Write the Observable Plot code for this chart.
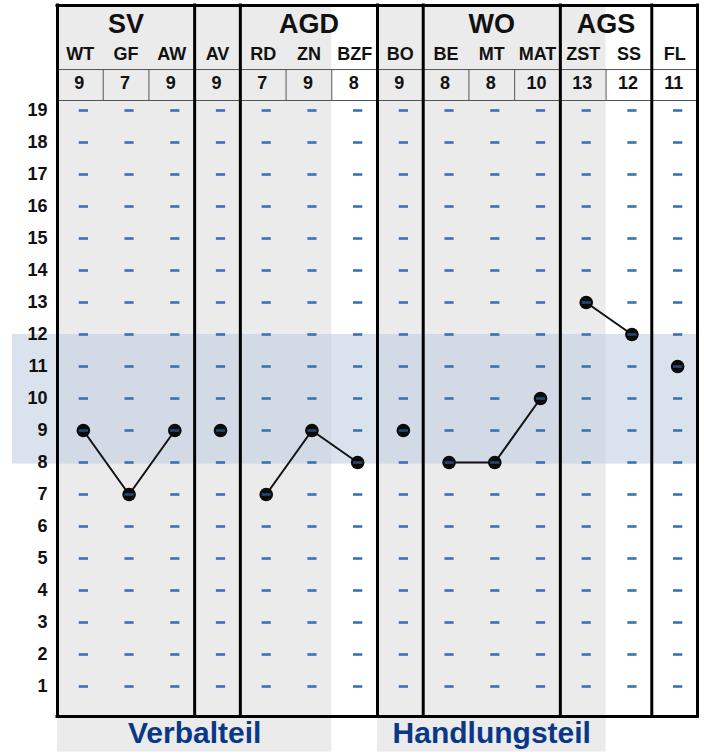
<!DOCTYPE html>
<html>
<head>
<meta charset="utf-8">
<script src="https://cdn.jsdelivr.net/npm/d3@7"></script>
<script src="https://cdn.jsdelivr.net/npm/@observablehq/plot@0.6"></script>
<style>
  html, body { margin: 0; padding: 0; background: #fff; }
  #chart svg { display: block; }
</style>
</head>
<body>
<div id="chart"></div>
<script>
// ---- data ----
const subtests = ["WT", "GF", "AW", "AV", "RD", "ZN", "BZF", "BO", "BE", "MT", "MAT", "ZST", "SS", "FL"];
const scores   = [9, 7, 9, 9, 7, 9, 8, 9, 8, 8, 10, 13, 12, 11];
const groupOf  = ["SV", "SV", "SV", "AV", "AGD", "AGD", "AGD", "BO", "WO", "WO", "WO", "AGS", "AGS", "FL"];
const groupHeaders = ["SV", "AGD", "WO", "AGS"];
const parts = [
  { label: "Verbalteil", first: "WT", last: "ZN" },
  { label: "Handlungsteil", first: "BO", last: "ZST" }
];
const scaleValues = [1, 2, 3, 4, 5, 6, 7, 8, 9, 10, 11, 12, 13, 14, 15, 16, 17, 18, 19];
const normRange = [8, 12];

// ---- derived tables ----
const cols = subtests.map((s, i) => ({ s, i, v: scores[i], g: groupOf[i] }));
const spans = [];
cols.forEach(c => {
  const last = spans[spans.length - 1];
  if (last && last.g === c.g) last.end = c.i + 1;
  else spans.push({ g: c.g, start: c.i, end: c.i + 1 });
});
const groupBounds = [...new Set(spans.flatMap(d => [d.start, d.end]))];
const innerBounds = cols.filter((c, i) => i > 0 && groupOf[i - 1] === c.g).map(c => c.i);
const dashes = cols.flatMap(c => scaleValues.map(v => ({ i: c.i, v })));
const partRects = parts.map(p => ({ label: p.label, x1: subtests.indexOf(p.first), x2: subtests.indexOf(p.last) + 1 }));

// ---- layout (y in scale units; 1 unit = 32px) ----
const yBot = 0.0625, yTop = 19.3125;
const yHeadTop = 22.28, yGroupText = 21.68, ySubText = 20.76, yRowLine = 20.28, yValText = 19.84;
const yPartText = -0.47, yPartBottom = -1.05;
const xBandStart = -0.985;
const nCols = subtests.length;

const dashSymbol = {
  draw(ctx, size) {
    const r = Math.sqrt(size / Math.PI);
    ctx.moveTo(-r, 0);
    ctx.lineTo(r, 0);
  }
};
const cx = d => d.i + 0.5;

const chart = Plot.plot({
  width: 704,
  height: 754,
  marginLeft: 57,
  marginRight: 7,
  marginTop: 100,
  marginBottom: 38,
  style: { fontFamily: "'Liberation Sans', Arial, sans-serif", background: "#fff" },
  x: { domain: [0, nCols], axis: null },
  y: { domain: [yBot, yTop], axis: null },
  marks: [
    // gray backgrounds for Verbalteil / Handlungsteil
    Plot.rect(partRects, { x1: "x1", x2: "x2", y1: yPartBottom, y2: yHeadTop, fill: "#ebebeb" }),
    // norm band
    Plot.rect([normRange], { x1: xBandStart, x2: nCols, y1: d => d[0] - 0.05, y2: d => d[1], fill: "rgb(196,209,226)", fillOpacity: 0.62 }),
    // y axis labels
    Plot.axisY(scaleValues, { label: null, tickSize: 0, tickPadding: 10, fontSize: 18, fontWeight: "bold", fill: "#111" }),
    // dashes
    Plot.dot(dashes, { x: cx, y: "v", symbol: dashSymbol, r: 4.6, fill: "none", stroke: "#3b70b6", strokeWidth: 2.6, dx: 3 }),
    // profile lines
    Plot.line(cols, { x: cx, y: "v", z: "g", stroke: "#111", strokeWidth: 2, dx: 3 }),
    // points
    Plot.dot(cols, { x: cx, y: "v", r: 6.8, fill: "#0a0a0a", dx: 3 }),
    Plot.dot(cols, { x: cx, y: "v", symbol: dashSymbol, r: 4.6, fill: "none", stroke: "#3b70b6", strokeOpacity: 0.6, strokeWidth: 2.6, dx: 3 }),
    // thin header lines
    Plot.ruleY([yRowLine, yTop], { x1: 0, x2: nCols, stroke: "#555", strokeWidth: 1 }),
    Plot.ruleX(innerBounds, { y1: yTop, y2: yRowLine, stroke: "#555", strokeWidth: 1 }),
    // thick borders
    Plot.ruleX(groupBounds, { y1: yBot, y2: yHeadTop, stroke: "#000", strokeWidth: 3, strokeLinecap: "square" }),
    Plot.ruleY([yHeadTop, yBot], { x1: 0, x2: nCols, stroke: "#000", strokeWidth: 3, strokeLinecap: "square" }),
    // header texts
    Plot.text(spans.filter(d => groupHeaders.includes(d.g)), { x: d => (d.start + d.end) / 2, y: yGroupText, text: "g", fontSize: 27, fontWeight: "bold", fill: "#111" }),
    Plot.text(cols, { x: cx, y: ySubText, text: "s", fontSize: 18, fontWeight: "bold", fill: "#111" }),
    Plot.text(cols, { x: cx, y: yValText, text: d => String(d.v), fontSize: 18, fontWeight: "bold", fill: "#111", dx: -1 }),
    // part labels
    Plot.text(partRects, { x: d => (d.x1 + d.x2) / 2, y: yPartText, text: "label", fontSize: 30, fontWeight: "bold", fill: "#0a3887" })
  ]
});
document.getElementById("chart").append(chart);
</script>
</body>
</html>
